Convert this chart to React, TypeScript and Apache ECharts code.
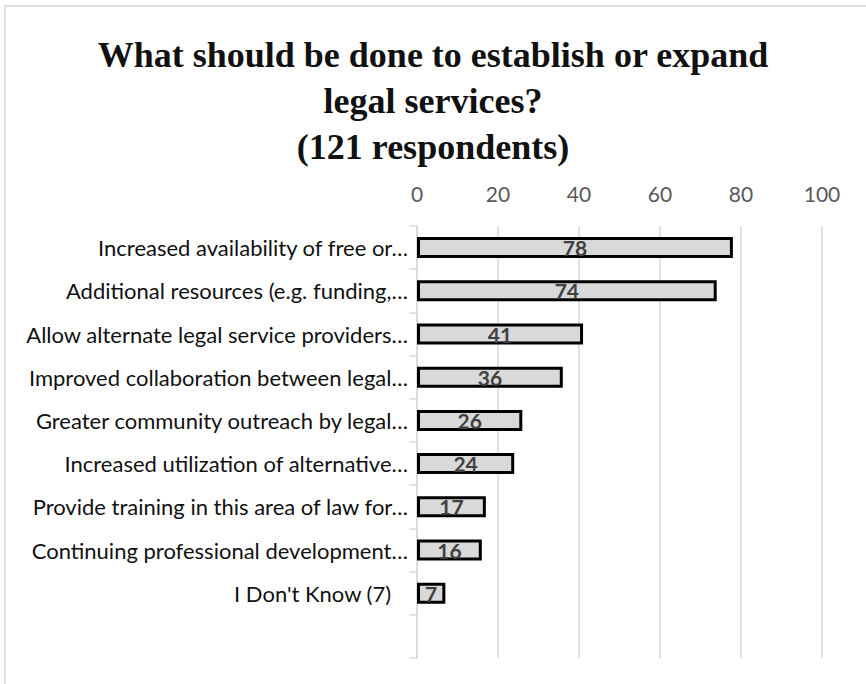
import React, { useEffect, useRef } from "react";
import * as echarts from "echarts";

const titleLines = [
  "What should be done to establish or expand",
  "legal services?",
  "(121 respondents)",
];

const categories = [
  "Increased availability of free or…",
  "Additional resources (e.g. funding,…",
  "Allow alternate legal service providers…",
  "Improved collaboration between legal…",
  "Greater community outreach by legal…",
  "Increased utilization of alternative…",
  "Provide training in this area of law for…",
  "Continuing professional development…",
  "I Don't Know (7)   ",
  "",
];

const values: (number | null)[] = [78, 74, 41, 36, 26, 24, 17, 16, 7, null];

const axisTicks = { min: 0, max: 100, interval: 20 };

export default function App() {
  const ref = useRef<HTMLDivElement>(null);
  useEffect(() => {
    if (!ref.current) return;
    const chart = echarts.init(ref.current, undefined, { renderer: "svg" });
    chart.setOption({
      animation: false,
      backgroundColor: "#ffffff",
      title: {
        text: titleLines.join("\n"),
        left: "center",
        top: 27,
        textStyle: {
          fontFamily: "Liberation Serif",
          fontWeight: "bold",
          fontSize: 36,
          lineHeight: 46,
          color: "#111111",
        },
      },
      graphic: [
        {
          type: "rect",
          shape: { x: 5, y: 6, width: 900, height: 700 },
          style: { fill: "none", stroke: "#d9d9d9", lineWidth: 1.5 },
          silent: true,
        },
      ],
      grid: { left: 417, right: 44, top: 226, bottom: 26, containLabel: false },
      xAxis: {
        type: "value",
        position: "top",
        min: axisTicks.min,
        max: axisTicks.max,
        interval: axisTicks.interval,
        axisLine: { show: false },
        axisTick: { show: false },
        splitLine: { show: true, lineStyle: { color: "#d9d9d9", width: 1.5 } },
        axisLabel: {
          margin: 22,
          fontFamily: "Lato",
          fontSize: 21,
          color: "#595959",
        },
      },
      yAxis: {
        type: "category",
        inverse: true,
        data: categories,
        axisLine: { show: true, lineStyle: { color: "#d9d9d9", width: 1.5 } },
        axisTick: { show: true, length: 8, lineStyle: { color: "#d9d9d9", width: 1.5 } },
        axisLabel: {
          margin: 9,
          fontFamily: "Lato",
          fontSize: 22,
          color: "#111111",
        },
      },
      series: [
        {
          type: "bar",
          data: values,
          barWidth: 21,
          itemStyle: { color: "#d9d9d9", borderColor: "#000000", borderWidth: 3 },
          label: {
            show: true,
            position: "inside",
            fontFamily: "Lato",
            fontWeight: "bold",
            fontSize: 21,
            color: "#404040",
          },
        },
      ],
    });
    return () => chart.dispose();
  }, []);
  return (
    <div
      ref={ref}
      style={{ position: "fixed", left: 0, top: 0, width: 866, height: 684 }}
    />
  );
}
